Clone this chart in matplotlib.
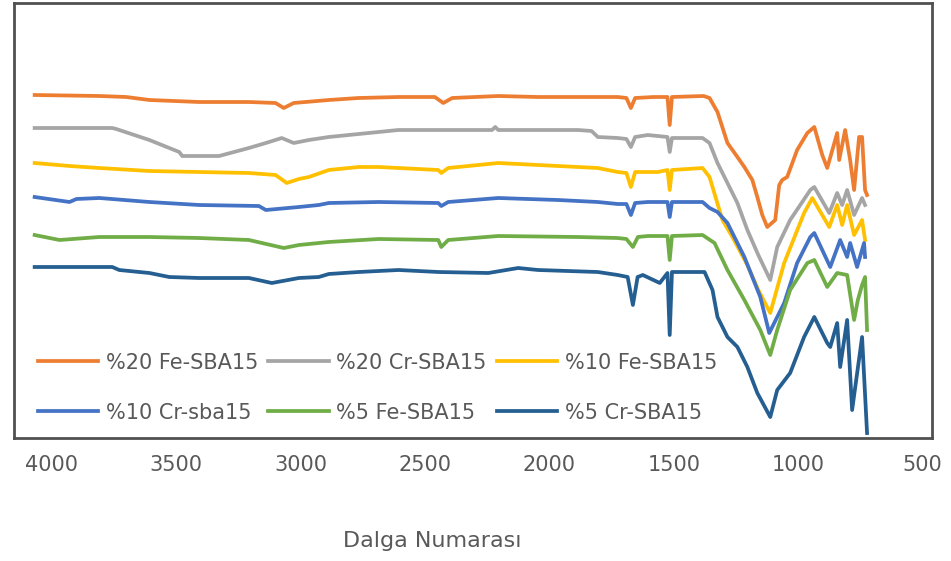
import matplotlib.pyplot as plt

# FTIR spectra, stacked (transmittance in arbitrary units, offset per sample)
labels = ["%20 Fe-SBA15", "%20 Cr-SBA15", "%10 Fe-SBA15",
          "%10 Cr-sba15", "%5 Fe-SBA15", "%5 Cr-SBA15"]
colors = ["#ED7D31", "#A5A5A5", "#FFC000", "#4472C4", "#70AD47", "#255E91"]

fe20_x = [4068, 3808, 3700, 3607, 3407, 3207, 3100, 3067, 3027, 2886, 2766, 2606, 2460, 2426, 2390,
          2205, 2045, 1885, 1725, 1690, 1672, 1655, 1580, 1525, 1516, 1507, 1380, 1356, 1324, 1284,
          1244, 1216, 1184, 1164, 1144, 1124, 1092, 1076, 1064, 1044, 1004, 963, 935, 903, 883, 851,
          843, 835, 811, 791, 775, 755, 743, 731, 723]
fe20_y = [343, 342, 341, 338, 336, 336, 335, 330, 335, 338, 340, 341, 341, 335, 340,
          342, 341, 341, 341, 340, 330, 340, 341, 341, 313, 341, 342, 340, 326, 295,
          281, 271, 258, 241, 223, 211, 218, 253, 258, 261, 288, 305, 311, 283, 270, 298,
          305, 278, 308, 278, 248, 301, 301, 248, 243]

cr20_x = [4068, 3756, 3740, 3607, 3487, 3475, 3327, 3207, 3139, 3075, 3027, 2966, 2886, 2806, 2606,
          2230, 2217, 2205, 1885, 1830, 1805, 1725, 1690, 1672, 1655, 1604, 1525, 1516, 1507, 1384,
          1356, 1324, 1284, 1244, 1204, 1160, 1112, 1084, 1032, 951, 935, 875, 843, 823, 803, 775,
          743, 731]
cr20_y = [310, 310, 309, 298, 286, 282, 282, 290, 295, 300, 295, 298, 301, 303, 308,
          308, 311, 308, 308, 307, 301, 300, 299, 291, 301, 303, 301, 286, 300, 300,
          295, 275, 255, 235, 208, 183, 158, 191, 218, 248, 251, 225, 245, 233, 248, 223,
          240, 233]

fe10_x = [4068, 3928, 3808, 3607, 3407, 3207, 3100, 3055, 3006, 2966, 2886, 2766, 2686, 2446, 2434,
          2406, 2205, 2045, 1965, 1805, 1725, 1690, 1672, 1655, 1564, 1525, 1516, 1507, 1384, 1356,
          1332, 1304, 1264, 1204, 1160, 1112, 1056, 976, 943, 875, 843, 823, 803, 775, 743, 731]
fe10_y = [275, 272, 270, 267, 266, 265, 263, 255, 259, 261, 268, 271, 271, 268, 265,
          270, 275, 273, 272, 270, 266, 265, 251, 266, 266, 268, 248, 268, 270, 261,
          241, 218, 201, 173, 148, 125, 175, 225, 240, 211, 233, 213, 233, 203, 218, 198]

cr10_x = [4068, 3928, 3900, 3808, 3607, 3407, 3167, 3139, 3006, 2926, 2886, 2686, 2446, 2434, 2406,
          2205, 1965, 1805, 1725, 1690, 1672, 1655, 1604, 1525, 1516, 1507, 1384, 1356, 1324, 1284,
          1216, 1152, 1116, 1056, 1004, 951, 935, 871, 831, 803, 791, 763, 735, 731]
cr10_y = [241, 236, 239, 240, 236, 233, 232, 228, 231, 233, 235, 236, 235, 232, 236,
          240, 238, 236, 234, 234, 223, 235, 236, 236, 221, 236, 236, 230, 226, 215,
          181, 141, 105, 135, 175, 201, 205, 171, 198, 181, 195, 171, 195, 181]

fe5_x = [4068, 3968, 3808, 3607, 3407, 3207, 3067, 3006, 2886, 2686, 2446, 2434, 2406, 2205, 1885,
         1725, 1690, 1664, 1644, 1604, 1525, 1516, 1507, 1384, 1336, 1284, 1216, 1152, 1112, 1084,
         1032, 963, 935, 883, 843, 803, 775, 760, 743, 731, 723]
fe5_y = [203, 198, 201, 201, 200, 198, 190, 193, 196, 199, 198, 191, 198, 202, 201,
         200, 199, 191, 201, 202, 202, 178, 202, 203, 195, 168, 138, 108, 83, 108,
         148, 175, 178, 151, 165, 163, 118, 138, 153, 161, 108]

cr5_x = [4068, 3756, 3728, 3607, 3527, 3407, 3207, 3115, 3006, 2926, 2886, 2766, 2606, 2446, 2245,
         2125, 2045, 1805, 1725, 1685, 1664, 1645, 1624, 1556, 1525, 1516, 1507, 1376, 1344, 1324,
         1284, 1244, 1204, 1164, 1112, 1084, 1032, 976, 935, 883, 871, 843, 831, 803, 783, 743, 723]
cr5_y = [171, 171, 168, 165, 161, 160, 160, 155, 160, 161, 164, 166, 168, 166, 165,
         170, 168, 166, 163, 161, 133, 161, 163, 155, 165, 103, 166, 166, 148, 121,
         101, 91, 71, 45, 21, 48, 65, 101, 121, 95, 91, 115, 71, 118, 28, 101, 5]

xs = [fe20_x, cr20_x, fe10_x, cr10_x, fe5_x, cr5_x]
ys = [fe20_y, cr20_y, fe10_y, cr10_y, fe5_y, cr5_y]

fig = plt.figure(figsize=(9.51, 5.61), dpi=100)
ax = fig.add_axes([14 / 951, 1 - 438 / 561, 918 / 951, 435 / 561])

lines = []
for x, y, c, lab in zip(xs, ys, colors, labels):
    ln, = ax.plot(x, y, color=c, lw=2.7, label=lab, solid_joinstyle="round")
    lines.append(ln)

ax.set_xlim(4151, 462)
ax.set_ylim(0, 435)
ax.set_xticks([4000, 3500, 3000, 2500, 2000, 1500, 1000, 500])
ax.tick_params(axis="x", length=0, pad=12, labelsize=15, labelcolor="#595959")
ax.set_yticks([])
for s in ax.spines.values():
    s.set_color("#505050")
    s.set_linewidth(2)

# legend fills by column, so reorder to read row-wise like the original
order = [0, 3, 1, 4, 2, 5]
ax.legend([lines[i] for i in order], [labels[i] for i in order],
          loc="lower left", bbox_to_anchor=(0.026, 0.035), ncol=3, frameon=False,
          fontsize=15, labelcolor="#595959", handlelength=2.9, handletextpad=0.35,
          columnspacing=0.5, labelspacing=1.45, borderpad=0, borderaxespad=0)

fig.text(432 / 951, 1 - 541 / 561, "Dalga Numarası", ha="center", va="center",
         fontsize=16, color="#595959")

plt.savefig("out.png", dpi=100)
